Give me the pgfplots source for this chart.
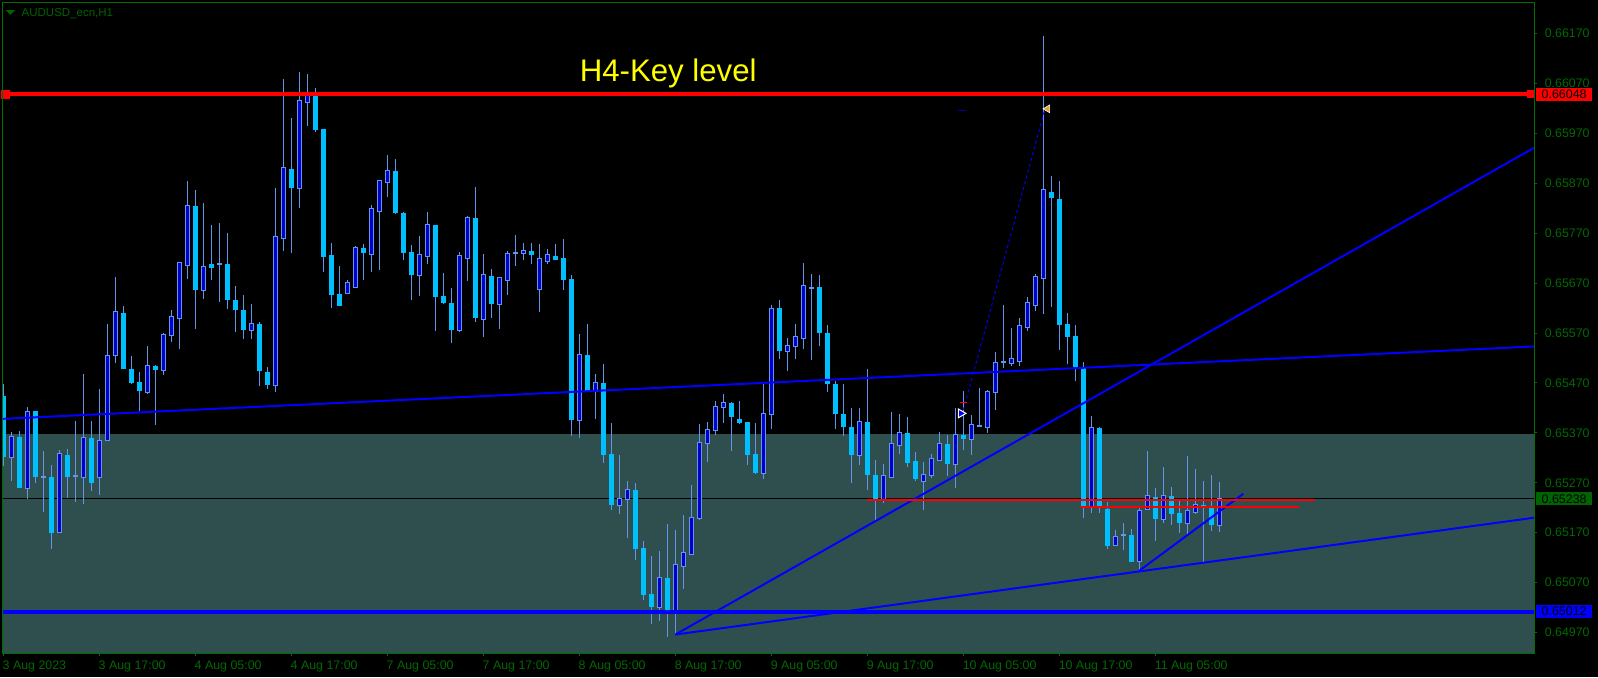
\documentclass[border=0pt]{standalone}
\usepackage{fontspec}
\setmainfont{Liberation Sans}
\usepackage{pgfplots}
\usepackage{pgfplotstable}
\pgfplotsset{compat=1.18}
\definecolor{bgslate}{RGB}{47,79,79}
\definecolor{wick}{RGB}{100,149,237}
\definecolor{bullfill}{RGB}{0,0,205}
\definecolor{bearfill}{RGB}{0,191,255}
\definecolor{mtgreen}{RGB}{0,105,0}
\definecolor{framegreen}{RGB}{0,110,0}
\definecolor{boxgreen}{RGB}{0,100,0}
\definecolor{keyyellow}{RGB}{255,255,0}
\definecolor{tri}{RGB}{232,160,40}
\newcommand\lbl{\fontsize{6.2pt}{7pt}\selectfont}
\pgfplotstableread{
i O H L C t
0 0.65443 0.65467 0.65304 0.65322 0
1 0.65322 0.65372 0.65274 0.65362 1
2 0.65362 0.65374 0.65260 0.65260 0
3 0.65260 0.65422 0.65238 0.65412 1
4 0.65414 0.65414 0.65270 0.65282 0
5 0.65282 0.65334 0.65212 0.65282 1
6 0.65282 0.65306 0.65138 0.65170 0
7 0.65172 0.65336 0.65170 0.65328 1
8 0.65326 0.65338 0.65240 0.65282 0
9 0.65284 0.65394 0.65232 0.65284 1
10 0.65282 0.65487 0.65228 0.65360 1
11 0.65360 0.65394 0.65254 0.65270 0
12 0.65282 0.65457 0.65246 0.65354 1
13 0.65356 0.65589 0.65356 0.65523 1
14 0.65525 0.65683 0.65509 0.65613 1
15 0.65611 0.65625 0.65497 0.65497 0
16 0.65497 0.65523 0.65467 0.65469 0
17 0.65471 0.65491 0.65414 0.65453 0
18 0.65451 0.65543 0.65447 0.65503 1
19 0.65503 0.65505 0.65386 0.65495 0
20 0.65495 0.65571 0.65485 0.65565 1
21 0.65565 0.65617 0.65551 0.65603 1
22 0.65601 0.65713 0.65537 0.65711 1
23 0.65707 0.65875 0.65679 0.65825 1
24 0.65825 0.65857 0.65579 0.65657 0
25 0.65657 0.65831 0.65639 0.65703 1
26 0.65709 0.65787 0.65677 0.65701 0
27 0.65709 0.65791 0.65633 0.65709 1
28 0.65709 0.65771 0.65619 0.65637 0
29 0.65637 0.65665 0.65573 0.65617 0
30 0.65617 0.65647 0.65557 0.65577 0
31 0.65577 0.65629 0.65557 0.65589 1
32 0.65589 0.65593 0.65463 0.65493 0
33 0.65491 0.65501 0.65457 0.65465 0
34 0.65465 0.65861 0.65451 0.65763 1
35 0.65761 0.66079 0.65735 0.65901 1
36 0.65899 0.66001 0.65731 0.65861 0
37 0.65861 0.66093 0.65821 0.66035 1
38 0.66033 0.66089 0.65985 0.66047 1
39 0.66045 0.66061 0.65973 0.65977 0
40 0.65979 0.65979 0.65693 0.65723 0
41 0.65727 0.65751 0.65621 0.65647 0
42 0.65649 0.65705 0.65625 0.65625 0
43 0.65651 0.65677 0.65651 0.65671 1
44 0.65663 0.65745 0.65663 0.65741 1
45 0.65741 0.65749 0.65677 0.65731 0
46 0.65729 0.65827 0.65693 0.65819 1
47 0.65815 0.65875 0.65697 0.65875 1
48 0.65873 0.65927 0.65843 0.65895 1
49 0.65895 0.65919 0.65809 0.65811 0
50 0.65811 0.65813 0.65717 0.65731 0
51 0.65733 0.65747 0.65637 0.65687 0
52 0.65687 0.65765 0.65645 0.65727 1
53 0.65725 0.65813 0.65709 0.65787 1
54 0.65787 0.65787 0.65575 0.65643 0
55 0.65645 0.65691 0.65629 0.65631 0
56 0.65631 0.65661 0.65549 0.65577 0
57 0.65577 0.65733 0.65573 0.65725 1
58 0.65721 0.65805 0.65675 0.65801 1
59 0.65801 0.65863 0.65593 0.65601 0
60 0.65599 0.65729 0.65561 0.65687 1
61 0.65685 0.65699 0.65601 0.65629 0
62 0.65629 0.65683 0.65579 0.65681 1
63 0.65677 0.65735 0.65647 0.65729 1
64 0.65731 0.65767 0.65705 0.65731 1
65 0.65731 0.65751 0.65717 0.65735 1
66 0.65735 0.65751 0.65709 0.65727 0
67 0.65659 0.65749 0.65613 0.65719 1
68 0.65715 0.65739 0.65709 0.65727 1
69 0.65725 0.65749 0.65717 0.65717 0
70 0.65721 0.65759 0.65657 0.65677 0
71 0.65679 0.65687 0.65364 0.65396 0
72 0.65396 0.65567 0.65360 0.65525 1
73 0.65525 0.65589 0.65453 0.65453 0
74 0.65453 0.65487 0.65398 0.65469 1
75 0.65469 0.65507 0.65310 0.65326 0
76 0.65328 0.65390 0.65216 0.65226 0
77 0.65226 0.65326 0.65208 0.65238 1
78 0.65238 0.65274 0.65160 0.65256 1
79 0.65256 0.65270 0.65116 0.65138 0
80 0.65140 0.65154 0.65036 0.65046 0
81 0.65048 0.65124 0.64988 0.65022 0
82 0.65022 0.65134 0.64994 0.65080 1
83 0.65080 0.65188 0.64962 0.65016 0
84 0.65016 0.65176 0.64966 0.65106 1
85 0.65104 0.65206 0.65058 0.65130 1
86 0.65128 0.65266 0.65126 0.65200 1
87 0.65200 0.65388 0.65196 0.65350 1
88 0.65350 0.65392 0.65312 0.65376 1
89 0.65376 0.65434 0.65366 0.65422 1
90 0.65422 0.65447 0.65390 0.65430 1
91 0.65430 0.65432 0.65334 0.65402 0
92 0.65398 0.65434 0.65388 0.65390 0
93 0.65392 0.65392 0.65306 0.65326 0
94 0.65328 0.65390 0.65288 0.65290 0
95 0.65290 0.65467 0.65278 0.65408 1
96 0.65408 0.65627 0.65378 0.65619 1
97 0.65621 0.65637 0.65517 0.65533 0
98 0.65533 0.65559 0.65493 0.65543 1
99 0.65543 0.65589 0.65517 0.65561 1
100 0.65559 0.65711 0.65537 0.65665 1
101 0.65661 0.65689 0.65515 0.65661 1
102 0.65663 0.65687 0.65543 0.65571 0
103 0.65571 0.65587 0.65451 0.65467 0
104 0.65467 0.65473 0.65378 0.65408 0
105 0.65408 0.65467 0.65364 0.65382 0
106 0.65382 0.65420 0.65270 0.65326 0
107 0.65326 0.65420 0.65306 0.65392 1
108 0.65392 0.65497 0.65256 0.65286 0
109 0.65286 0.65316 0.65196 0.65236 0
110 0.65238 0.65308 0.65230 0.65284 1
111 0.65282 0.65412 0.65280 0.65348 1
112 0.65346 0.65408 0.65328 0.65370 1
113 0.65370 0.65402 0.65302 0.65310 0
114 0.65314 0.65332 0.65274 0.65278 0
115 0.65274 0.65312 0.65216 0.65286 1
116 0.65286 0.65328 0.65280 0.65318 1
117 0.65316 0.65372 0.65314 0.65348 1
118 0.65348 0.65366 0.65284 0.65308 0
119 0.65308 0.65420 0.65260 0.65366 1
120 0.65366 0.65454 0.65336 0.65358 0
121 0.65358 0.65406 0.65326 0.65386 1
122 0.65384 0.65459 0.65382 0.65384 1
123 0.65382 0.65455 0.65370 0.65451 1
124 0.65451 0.65531 0.65416 0.65509 1
125 0.65511 0.65627 0.65499 0.65511 1
126 0.65509 0.65581 0.65503 0.65517 1
127 0.65513 0.65601 0.65503 0.65585 1
128 0.65583 0.65643 0.65575 0.65631 1
129 0.65627 0.65689 0.65615 0.65683 1
130 0.65681 0.66165 0.65609 0.65857 1
131 0.65853 0.65885 0.65623 0.65841 0
132 0.65839 0.65875 0.65535 0.65587 0
133 0.65589 0.65611 0.65507 0.65561 0
134 0.65563 0.65587 0.65473 0.65501 0
135 0.65501 0.65511 0.65200 0.65224 0
136 0.65224 0.65403 0.65210 0.65380 1
137 0.65380 0.65382 0.65210 0.65222 0
138 0.65218 0.65232 0.65138 0.65144 0
139 0.65146 0.65176 0.65146 0.65162 1
140 0.65166 0.65190 0.65136 0.65166 1
141 0.65166 0.65178 0.65112 0.65112 0
142 0.65114 0.65224 0.65094 0.65214 1
143 0.65218 0.65334 0.65218 0.65244 1
144 0.65242 0.65260 0.65154 0.65198 0
145 0.65198 0.65302 0.65190 0.65244 1
146 0.65244 0.65262 0.65186 0.65208 0
147 0.65210 0.65234 0.65170 0.65190 0
148 0.65190 0.65324 0.65166 0.65214 1
149 0.65212 0.65298 0.65208 0.65226 1
150 0.65226 0.65274 0.65112 0.65222 0
151 0.65224 0.65286 0.65174 0.65186 0
152 0.65186 0.65272 0.65172 0.65238 1
}\candles
\begin{document}
\begin{tikzpicture}
\fill[black] (-1pt,-12pt) rectangle (798pt,326.5pt);
\begin{axis}[
  at={(0,0)}, anchor=south west,
  scale only axis, width=766pt, height=325.5pt,
  xmin=-0.166, xmax=191.33,
  ymin=0.64929, ymax=0.66233,
  clip mode=individual,
  axis on top,
  axis line style={draw=framegreen, line width=0.5pt},
  xtick={0,12,24,36,48,60,72,84,96,108,120,132,144},
  xticklabels={3 Aug 2023,3 Aug 17:00,4 Aug 05:00,4 Aug 17:00,7 Aug 05:00,7 Aug 17:00,8 Aug 05:00,8 Aug 17:00,9 Aug 05:00,9 Aug 17:00,10 Aug 05:00,10 Aug 17:00,11 Aug 05:00},
  ytick={0.64970,0.65070,0.65170,0.65270,0.65370,0.65470,0.65570,0.65670,0.65770,0.65870,0.65970,0.66070,0.66170},
  yticklabels={0.64970,0.65070,0.65170,0.65270,0.65370,0.65470,0.65570,0.65670,0.65770,0.65870,0.65970,0.66070,0.66170},
  xtick pos=left, ytick pos=right, yticklabel pos=right,
  tick align=outside, major tick length=1.5pt,
  tick style={draw=framegreen, line width=0.5pt},
  xticklabel style={anchor=base west, inner sep=0pt, yshift=-6.85pt, xshift=-0.5pt, font=\lbl, text=mtgreen},
  yticklabel style={anchor=west, inner sep=0pt, xshift=3.7pt, font=\lbl, text=mtgreen},
]
% shaded zone
\addplot[fill=bgslate, draw=none, forget plot] coordinates {(-1,0.64900) (-1,0.65368) (192,0.65368) (192,0.64900)} -- cycle;
% bid line
\addplot[black, line width=0.5pt, forget plot] coordinates {(-1,0.65238) (192,0.65238)};
% wicks
\addplot[draw=none, mark=none, forget plot,
  error bars/.cd, y dir=plus, y explicit, error mark=none,
  error bar style={draw=wick, line width=0.5pt}]
  table[x=i, y=L, y error plus expr=\thisrow{H}-\thisrow{L}] {\candles};
% bull outline (t=1)
\addplot[draw=none, mark=none, forget plot,
  error bars/.cd, y dir=plus, y explicit, error mark=none,
  error bar style={draw=wick, line width=2.5pt}]
  table[x=i, y expr=\thisrow{O}-0.00002, y error plus expr=\thisrow{t}*(\thisrow{C}-\thisrow{O}+0.00004)] {\candles};
% bull fill
\addplot[draw=none, mark=none, forget plot,
  error bars/.cd, y dir=plus, y explicit, error mark=none,
  error bar style={draw=bullfill, line width=1.5pt}]
  table[x=i, y=O, y error plus expr=\thisrow{t}*(\thisrow{C}-\thisrow{O})] {\candles};
% bear bodies (t=0)
\addplot[draw=none, mark=none, forget plot,
  error bars/.cd, y dir=plus, y explicit, error mark=none,
  error bar style={draw=bearfill, line width=2.5pt}]
  table[x=i, y=C, y error plus expr=(1-\thisrow{t})*(\thisrow{O}-\thisrow{C})] {\candles};
% trend lines
\addplot[blue, line width=1pt, forget plot] coordinates {(-0.166,0.65398) (191.33,0.65543)};
\addplot[blue, line width=1pt, forget plot] coordinates {(84,0.64966) (191.33,0.65941)};
\addplot[blue, line width=1pt, forget plot] coordinates {(84,0.64966) (191.33,0.65200)};
\addplot[blue, line width=1pt, forget plot] coordinates {(142,0.65094) (155,0.65248)};
% key levels
\addplot[red, line width=2pt, forget plot] coordinates {(-1,0.66048) (192,0.66048)};
\addplot[only marks, mark=square*, mark size=2pt, red, forget plot] coordinates {(0.21,0.66048)};
\addplot[only marks, mark=square*, mark size=1.75pt, red, forget plot] coordinates {(190.9,0.66048)};
\addplot[blue, line width=2pt, forget plot] coordinates {(-1,0.65012) (192,0.65012)};
% short red levels
\addplot[red, line width=1pt, forget plot] coordinates {(107.9,0.65235) (163.96,0.65235)};
\addplot[red, line width=1pt, forget plot] coordinates {(134.6,0.65222) (161.96,0.65222)};
% dotted projection
\addplot[blue, line width=0.5pt, dash pattern=on 1.5pt off 1.5pt, forget plot] coordinates {(120.0,0.65416) (130.2,0.66019)};
\addplot[red, line width=0.5pt, forget plot] coordinates {(119.6,0.65430) (120.4,0.65430)};
\addplot[blue!60!black, line width=0.5pt, forget plot] coordinates {(119.3,0.66015) (120.3,0.66015)};
\addplot[only marks, mark=triangle*, mark size=2.5pt, mark options={rotate=-90, fill=blue, draw=white, line width=0.5pt}, forget plot] coordinates {(119.7,0.65409)};
\addplot[only marks, mark=triangle*, mark size=2.2pt, mark options={rotate=90, fill=tri, draw=white, line width=0.3pt}, forget plot] coordinates {(130.5,0.66019)};
% texts
\node[anchor=base west, inner sep=0pt, text=keyyellow, font=\fontsize{15.6pt}{18pt}\selectfont] at (axis cs:72.0,0.66074) {H4-Key level};
\node[anchor=base west, inner sep=0pt, text=boxgreen, font=\fontsize{5.75pt}{7pt}\selectfont] at (rel axis cs:0,1) [xshift=9.65pt, yshift=-7.35pt] {AUDUSD\_ecn,H1};
\fill[boxgreen] ([xshift=1.8pt,yshift=-4pt]rel axis cs:0,1) -- ([xshift=6.5pt,yshift=-4pt]rel axis cs:0,1) -- ([xshift=4.15pt,yshift=-6.4pt]rel axis cs:0,1) -- cycle;
% price boxes
\node[anchor=west, fill=red, text=black, inner xsep=2.65pt, inner ysep=0pt, text width=22.7pt, align=left, minimum height=6.5pt, font=\lbl, xshift=1pt] at (axis cs:191.33,0.66048) {0.66048};
\node[anchor=west, fill=boxgreen, text=black, inner xsep=2.65pt, inner ysep=0pt, text width=22.7pt, align=left, minimum height=6.5pt, font=\lbl, xshift=1pt] at (axis cs:191.33,0.65238) {0.65238};
\node[anchor=west, fill=blue, text=black, inner xsep=2.65pt, inner ysep=0pt, text width=22.7pt, align=left, minimum height=6.5pt, font=\lbl, xshift=1pt] at (axis cs:191.33,0.65012) {0.65012};
\end{axis}
\pgfresetboundingbox
\path (-1pt,-12pt) rectangle (798pt,326.5pt);
\end{tikzpicture}
\end{document}
